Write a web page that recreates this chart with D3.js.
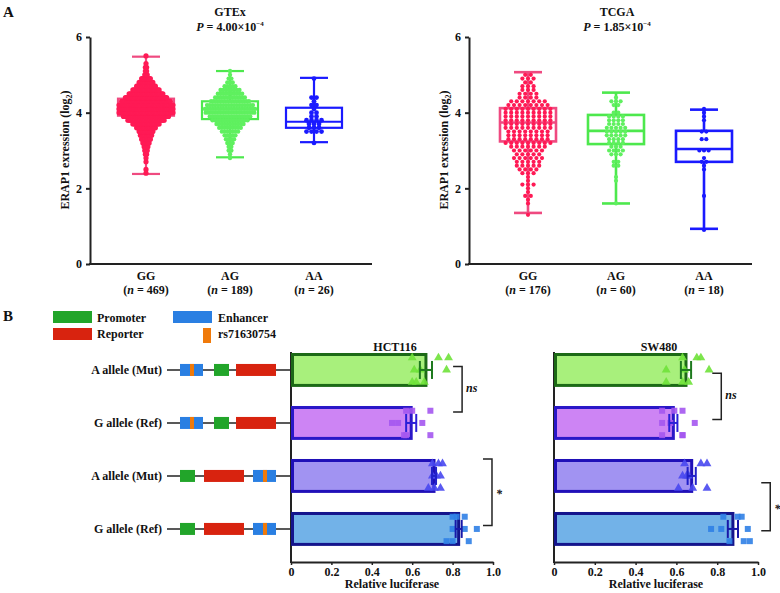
<!DOCTYPE html>
<html><head><meta charset="utf-8">
<script src="https://cdn.jsdelivr.net/npm/d3@7"></script>
<style>
body{margin:0;background:#fff}
svg text{font-family:"Liberation Serif","Times New Roman",serif;font-weight:bold;fill:#111}
</style>
</head><body><svg id="c" width="780" height="593"></svg>
<script>
// ---------------- DATA ----------------
const genotypes = ["GG","AG","AA"];
const gtexN = [469,189,26];
const tcgaN = [176,60,18];
const yTicks = [0,2,4,6];
// box stats: [min, q1, median, q3, max]
const gtexBox = [[2.38,3.92,4.15,4.37,5.48],[2.82,3.83,4.10,4.30,5.10],[3.22,3.60,3.76,4.13,4.92]];
const tcgaBox = [[1.35,3.24,3.74,4.12,5.07],[1.60,3.17,3.52,3.94,4.53],[0.93,2.70,3.04,3.52,4.08]];
// dot rows (value, number of samples at that value)
const gtexGGValues = [2.4,2.5,2.6,2.7,2.8,2.9,3.0,3.1,3.2,3.3,3.4,3.5,3.6,3.7,3.8,3.9,4.0,4.1,4.2,4.3,4.4,4.5,4.6,4.7,4.8,4.9,5.0,5.1,5.2,5.3,5.4,5.5];
const gtexGGCounts = [1,1,0,1,1,2,3,4,6,8,10,12,16,22,30,37,46,50,50,40,34,28,22,16,12,8,3,2,2,1,0,1];
const gtexAGValues = [2.8,2.9,3.0,3.1,3.2,3.3,3.4,3.5,3.6,3.7,3.8,3.9,4.0,4.1,4.2,4.3,4.4,4.5,4.6,4.7,4.8,4.9,5.0,5.1];
const gtexAGCounts = [1,1,2,2,3,4,5,7,9,11,14,16,19,20,18,15,12,10,8,5,3,2,1,1];
const gtexAAValues = [3.2,3.5,3.6,3.7,3.8,3.9,4.0,4.1,4.2,4.3,4.4,4.9];
const gtexAACounts = [1,4,3,3,4,2,2,1,2,1,2,1];
const tcgaGGValues = [1.3,1.4,1.5,1.6,1.7,1.8,1.9,2.0,2.1,2.2,2.3,2.4,2.5,2.6,2.7,2.8,2.9,3.0,3.1,3.2,3.3,3.4,3.5,3.6,3.7,3.8,3.9,4.0,4.1,4.2,4.3,4.4,4.5,4.6,4.7,4.8,4.9,5.0];
const tcgaGGCounts = [1,0,0,1,1,2,1,1,3,1,1,3,4,5,5,6,5,6,7,9,8,8,8,9,9,9,9,9,9,8,7,4,4,3,3,2,3,2];
const tcgaAGValues = [1.6,2.2,2.3,2.6,2.7,2.9,3.0,3.1,3.2,3.3,3.4,3.5,3.6,3.7,3.8,3.9,4.0,4.2,4.3,4.4];
const tcgaAGCounts = [1,1,1,2,2,3,4,3,4,4,5,5,5,4,4,4,2,2,3,1];
const tcgaAAValues = [0.9,1.8,2.5,2.6,2.7,2.8,3.0,3.3,3.5,3.8,3.9,4.0,4.1];
const tcgaAACounts = [1,1,1,1,2,1,3,2,2,1,1,1,1];

const constructs = ["A allele (Mut)","G allele (Ref)","A allele (Mut)","G allele (Ref)"];
const luciferaseTicks = [0,0.2,0.4,0.6,0.8,1.0];
const hctMeans = [0.668,0.595,0.708,0.830];
const hctSE    = [0.030,0.025,0.010,0.015];
const hctPoints = [
  [0.60,0.61,0.60,0.78,0.64,0.62,0.73,0.77,0.66],
  [0.57,0.50,0.56,0.69,0.53,0.57,0.60,0.65,0.69],
  [0.73,0.70,0.68,0.75,0.74,0.74,0.70,0.72,0.71],
  [0.80,0.80,0.77,0.86,0.92,0.80,0.82,0.86,0.88]];
const swMeans = [0.647,0.585,0.675,0.877];
const swSE    = [0.025,0.020,0.020,0.025];
const swPoints = [
  [0.72,0.55,0.63,0.63,0.64,0.66,0.70,0.76,0.55],
  [0.53,0.53,0.53,0.63,0.57,0.63,0.59,0.69,0.63],
  [0.64,0.63,0.61,0.72,0.65,0.68,0.75,0.66,0.75],
  [0.83,0.77,0.86,0.92,0.82,0.93,0.90,0.95,0.96]];

// ---------------- DRAW ----------------
const svg = d3.select("#c");

svg.append("text").attr("x",3).attr("y",17).style("font-size","15px").text("A");
svg.append("text").attr("x",3).attr("y",321).style("font-size","15px").text("B");

const dotColors = ["#ff1a55","#5ff05f","#1a1aff"];
const boxColors = ["#ef4a80","#4de84d","#1a1aff"];

function boxPanel(cfg){
  const g = svg.append("g");
  const y = d3.scaleLinear().domain([0,6]).range([264,37]);
  const x = d3.scalePoint().domain(genotypes).range(cfg.catRange);
  const ya = g.append("g").attr("transform",`translate(${cfg.x0},0)`)
    .call(d3.axisLeft(y).tickValues(yTicks).tickFormat(d3.format("d")).tickSize(4).tickSizeOuter(0).tickPadding(4));
  ya.select(".domain").attr("stroke","#222").attr("stroke-width",2);
  ya.selectAll(".tick line").attr("stroke","#222").attr("stroke-width",2);
  ya.selectAll(".tick text").style("font-size","12px").style("font-family","Liberation Serif").style("font-weight","bold");
  g.append("line").attr("x1",cfg.x0-1).attr("x2",cfg.x1).attr("y1",264).attr("y2",264).attr("stroke","#222").attr("stroke-width",2);
  genotypes.forEach((gt,i)=>{
    g.append("text").attr("text-anchor","middle").attr("x",x(gt)).attr("y",280).style("font-size","12px").text(gt);
    const t2 = g.append("text").attr("text-anchor","middle").attr("x",x(gt)).attr("y",294).style("font-size","12px");
    t2.append("tspan").text("(");
    t2.append("tspan").style("font-style","italic").text("n");
    t2.append("tspan").text(" = " + cfg.n[i] + ")");
  });
  const yl = g.append("text").attr("transform",`translate(${cfg.x0-21},150) rotate(-90)`).attr("text-anchor","middle").style("font-size","12px");
  yl.append("tspan").text("ERAP1 exression (log");
  yl.append("tspan").attr("dy",3).style("font-size","8px").text("2");
  yl.append("tspan").attr("dy",-3).text(")");
  g.append("text").attr("x",cfg.titleX).attr("y",16).attr("text-anchor","middle").style("font-size","12px").text(cfg.title);
  const pt = g.append("text").attr("x",cfg.titleX).attr("y",31).attr("text-anchor","middle").style("font-size","12px");
  pt.append("tspan").style("font-style","italic").text("P");
  pt.append("tspan").text(" = " + cfg.p + "×10");
  pt.append("tspan").attr("dy",-5).style("font-size","7px").text("−4");
  const bw = 56, cw = 28;
  cfg.box.forEach((b,i)=>{
    const cx = x(genotypes[i]), col = boxColors[i];
    const bg = g.append("g").attr("stroke",col).attr("stroke-width",cfg.sw).attr("fill","none");
    bg.append("line").attr("x1",cx).attr("x2",cx).attr("y1",y(b[0])).attr("y2",y(b[1]));
    bg.append("line").attr("x1",cx).attr("x2",cx).attr("y1",y(b[3])).attr("y2",y(b[4]));
    bg.append("line").attr("x1",cx-cw/2).attr("x2",cx+cw/2).attr("y1",y(b[0])).attr("y2",y(b[0]));
    bg.append("line").attr("x1",cx-cw/2).attr("x2",cx+cw/2).attr("y1",y(b[4])).attr("y2",y(b[4]));
    bg.append("rect").attr("x",cx-bw/2).attr("width",bw).attr("y",y(b[3])).attr("height",y(b[1])-y(b[3]));
    bg.append("line").attr("x1",cx-bw/2).attr("x2",cx+bw/2).attr("y1",y(b[2])).attr("y2",y(b[2]));
  });
  cfg.dots.forEach((d,i)=>{
    const cx = x(genotypes[i]);
    const pts = [];
    d.values.forEach((v,k)=>{
      const c = d.counts[k];
      if(!c) return;
      const w = Math.min(d.maxW, (c-1)*d.s);
      const step = c>1 ? w/(c-1) : 0;
      for(let j=0;j<c;j++) pts.push({v, dx: -w/2 + j*step});
    });
    g.append("g").selectAll("circle").data(pts).join("circle")
      .attr("cx",p=>cx+p.dx).attr("cy",p=>y(p.v)).attr("r",d.r)
      .attr("fill",dotColors[i]);
  });
}

boxPanel({x0:90,x1:372,catRange:[146,314],title:"GTEx",p:"4.00",titleX:230,n:gtexN,box:gtexBox,sw:2.2,
  dots:[{values:gtexGGValues,counts:gtexGGCounts,s:1.25,maxW:54,r:2.6},{values:gtexAGValues,counts:gtexAGCounts,s:2.7,maxW:50,r:2.2},{values:gtexAAValues,counts:gtexAACounts,s:5,maxW:50,r:2.4}]});
boxPanel({x0:469,x1:752,catRange:[528,704],title:"TCGA",p:"1.85",titleX:617,n:tcgaN,box:tcgaBox,sw:2.6,
  dots:[{values:tcgaGGValues,counts:tcgaGGCounts,s:5.6,maxW:60,r:2.1},{values:tcgaAGValues,counts:tcgaAGCounts,s:4.6,maxW:50,r:2.1},{values:tcgaAAValues,counts:tcgaAACounts,s:4.6,maxW:50,r:2.1}]});

// ---- Panel B ----
const band = d3.scaleBand().domain(d3.range(4)).range([347.7,551.2]).paddingInner(0.36).paddingOuter(0.1);
const bh = band.bandwidth();
const C = {prom:"#22a52a", rep:"#d8230f", enh:"#2a7fe2", snp:"#f07a0a"};

const lg = svg.append("g");
lg.append("rect").attr("x",53).attr("y",311).attr("width",39).attr("height",12).attr("fill",C.prom);
lg.append("rect").attr("x",53).attr("y",328).attr("width",39).attr("height",12).attr("fill",C.rep);
lg.append("rect").attr("x",173).attr("y",311).attr("width",39).attr("height",12).attr("fill",C.enh);
lg.append("rect").attr("x",203).attr("y",328).attr("width",8).attr("height",15).attr("fill",C.snp);
[["Promoter",97,322],["Reporter",97,338],["Enhancer",218,322],["rs71630754",218,338]].forEach(([t,x,y])=>
  lg.append("text").attr("x",x).attr("y",y).style("font-size","12px").text(t));

const layoutUp = [["enh",180,23],["prom",214,15],["rep",236,40]];
const layoutDown = [["prom",180,15],["rep",204,40],["enh",253,23]];
constructs.forEach((lab,i)=>{
  const cy = band(i)+bh/2;
  svg.append("text").attr("x",162).attr("y",cy+4).attr("text-anchor","end").style("font-size","12px").text(lab);
  svg.append("line").attr("x1",167).attr("x2",291).attr("y1",cy).attr("y2",cy).attr("stroke","#222").attr("stroke-width",1.5);
  const lay = i<2 ? layoutUp : layoutDown;
  lay.forEach(([t,x,w])=>{
    svg.append("rect").attr("x",x).attr("y",cy-6).attr("width",w).attr("height",12).attr("fill",C[t]);
    if(t==="enh") svg.append("rect").attr("x",x+w/2-1.5).attr("y",cy-6).attr("width",4).attr("height",12).attr("fill",C.snp);
  });
});

const barFill = ["#a8f07c","#cd84f4","#a193f2","#72b2e8"];
const barStroke = ["#1c6a16","#2a17c8","#2010b8","#14148c"];
const errCol = ["#1e7a1e","#2a20d8","#2020c8","#1818a8"];
const ptCol = ["#6fe23a","#a456f0","#4848f0","#2f80e6"];

function barPanel(cfg){
  const g = svg.append("g");
  const x = d3.scaleLinear().domain([0,1]).range([cfg.x0,cfg.x1]);
  const xa = g.append("g").attr("transform","translate(0,562)")
    .call(d3.axisBottom(x).tickValues(luciferaseTicks).tickFormat(d=>d===0?"0":d3.format(".1f")(d)).tickSize(3).tickSizeOuter(0).tickPadding(2));
  xa.select(".domain").attr("stroke","#222").attr("stroke-width",2);
  xa.selectAll(".tick line").attr("stroke","#222").attr("stroke-width",1.5);
  xa.selectAll(".tick text").style("font-size","12px").style("font-family","Liberation Serif").style("font-weight","bold").attr("fill","#111");
  g.append("line").attr("x1",cfg.x0).attr("x2",cfg.x0).attr("y1",352).attr("y2",563).attr("stroke","#222").attr("stroke-width",2);
  g.append("text").attr("x",(cfg.x0+cfg.x1)/2).attr("y",588).attr("text-anchor","middle").style("font-size","12px").text("Relative luciferase");
  g.append("text").attr("x",(cfg.x0+cfg.x1)/2+3).attr("y",351).attr("text-anchor","middle").style("font-size","12px").text(cfg.title);
  cfg.means.forEach((m,i)=>{
    const y0 = band(i), cy = y0+bh/2;
    g.append("rect").attr("x",x(0)+1.5).attr("y",y0+1.5).attr("width",x(m)-x(0)-1.5).attr("height",bh-3)
      .attr("fill",barFill[i]).attr("stroke",barStroke[i]).attr("stroke-width",3);
    const shape = i%2===0 ? d3.symbolTriangle : d3.symbolSquare;
    const sym = d3.symbol().type(shape).size(i%2===0?34:36);
    g.append("g").selectAll("path").data(cfg.points[i]).join("path")
      .attr("d",sym)
      .attr("transform",(v,j)=>`translate(${x(v)},${cy + ((j%3)-1)*bh*0.36})`)
      .attr("fill",ptCol[i]).attr("opacity",0.9);
    const e = cfg.se[i], eg = g.append("g").attr("stroke",errCol[i]).attr("stroke-width",2);
    eg.append("line").attr("x1",x(m-e)).attr("x2",x(m+e)).attr("y1",cy).attr("y2",cy);
    eg.append("line").attr("x1",x(m-e)).attr("x2",x(m-e)).attr("y1",cy-9).attr("y2",cy+9);
    eg.append("line").attr("x1",x(m+e)).attr("x2",x(m+e)).attr("y1",cy-9).attr("y2",cy+9);
  });
  cfg.brackets.forEach(b=>{
    const bx = x(b.at), ya = band(b.from[0])+bh*b.from[1], yb = band(b.to[0])+bh*b.to[1];
    g.append("path").attr("d",`M${bx-9},${ya}H${bx}V${yb}H${bx-9}`).attr("fill","none").attr("stroke","#222").attr("stroke-width",1.5);
    g.append("text").attr("x",bx+4).attr("y",(ya+yb)/2+(b.label==="*"?6:3)).style("font-size","12px").style("font-style","italic").text(b.label);
  });
}

barPanel({x0:291,x1:493,title:"HCT116",means:hctMeans,se:hctSE,points:hctPoints,
  brackets:[{at:0.847,from:[0,0.4],to:[1,0.18],label:"ns"},{at:0.995,from:[2,0],to:[3,0.4],label:"*"}]});
barPanel({x0:554,x1:758,title:"SW480",means:swMeans,se:swSE,points:swPoints,
  brackets:[{at:0.82,from:[0,0.6],to:[1,0.4],label:"ns"},{at:1.06,from:[2,0.7],to:[3,0.55],label:"*"}]});
</script>
</body></html>
